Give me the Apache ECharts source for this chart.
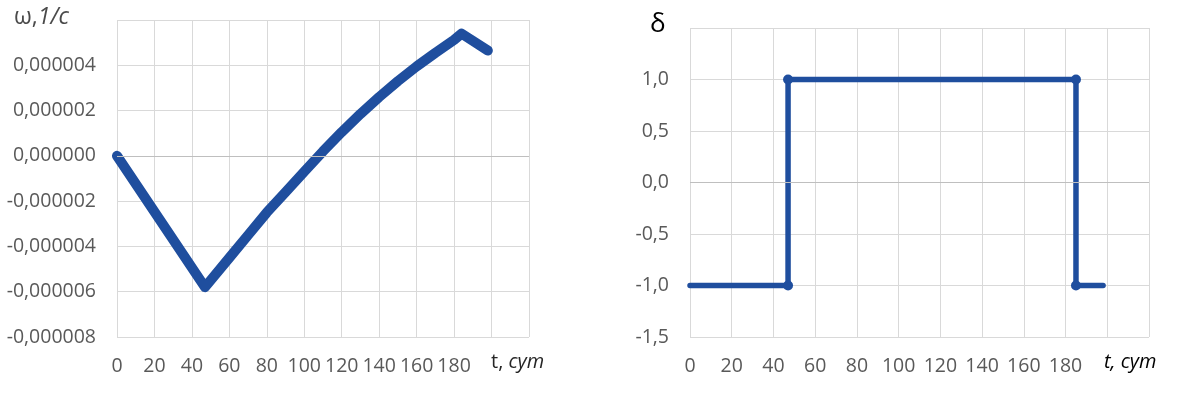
<!DOCTYPE html>
<html>
<head>
<meta charset="utf-8">
<script src="https://cdn.jsdelivr.net/npm/echarts@6/dist/echarts.min.js"></script>
<style>
html,body{margin:0;padding:0;background:#fff;}
#c{width:1181px;height:407px;}
</style>
</head>
<body>
<div id="c"></div>
<script>
// ---- data ----
var omegaT = [0, 47, 60, 70, 80, 90, 100, 110, 120, 130, 140, 150, 160, 170, 180, 184, 198];
var omegaV = [0, -5.8e-6, -4.5e-6, -3.5e-6, -2.5e-6, -1.6e-6, -0.7e-6, 0.2e-6, 1.05e-6, 1.85e-6, 2.6e-6, 3.3e-6, 3.95e-6, 4.55e-6, 5.12e-6, 5.4e-6, 4.65e-6];
var deltaT = [0, 47, 47, 185, 185, 198];
var deltaV = [-1, -1, 1, 1, -1, -1];
var deltaMarked = [false, true, true, true, true, false];
var xTickMax = 180;

var GRAY = '#595959', GRID = '#d9d9d9', BLUE = '#1F4E9E';
var FONT = 'Open Sans';
var FS = 19.5;

function pairs(xs, ys) { return xs.map(function (x, i) { return [x, ys[i]]; }); }
function fmtComma(v, d) { return v.toFixed(d).replace('.', ','); }

var chart = echarts.init(document.getElementById('c'));
var xCommon = function (idx) {
  return {
    type: 'value', gridIndex: idx, min: 0, max: 220, interval: 20,
    axisLine: { show: false }, axisTick: { show: false },
    splitLine: { show: true, lineStyle: { color: GRID, width: 1 } },
    axisLabel: {
      color: GRAY, fontFamily: FONT, fontSize: FS, margin: 19,
      formatter: function (v) { return v > xTickMax ? '' : String(v); }
    }
  };
};

chart.setOption({
  animation: false,
  grid: [
    { left: 117, top: 20, width: 412, height: 317 },
    { left: 690, top: 28, width: 459, height: 309 }
  ],
  xAxis: [xCommon(0), xCommon(1)],
  yAxis: [
    {
      type: 'value', gridIndex: 0, min: -8e-6, max: 6e-6, interval: 2e-6,
      axisLine: { show: false }, axisTick: { show: false },
      splitLine: { lineStyle: { color: GRID, width: 1 } },
      axisLabel: {
        color: GRAY, fontFamily: FONT, fontSize: FS, margin: 21, showMaxLabel: false,
        formatter: function (v) { return fmtComma(v, 6); }
      }
    },
    {
      type: 'value', gridIndex: 1, min: -1.5, max: 1.5, interval: 0.5,
      axisLine: { show: false }, axisTick: { show: false },
      splitLine: { lineStyle: { color: GRID, width: 1 } },
      axisLabel: {
        color: GRAY, fontFamily: FONT, fontSize: FS, margin: 21, showMaxLabel: false,
        formatter: function (v) { return fmtComma(v, 1); }
      }
    }
  ],
  series: [
    {
      type: 'line', xAxisIndex: 0, yAxisIndex: 0,
      data: pairs(omegaT, omegaV),
      showSymbol: false, symbol: 'none',
      lineStyle: { color: BLUE, width: 10, cap: 'round', join: 'round' },
      markLine: {
        silent: true, symbol: 'none', label: { show: false },
        lineStyle: { color: '#bfbfbf', width: 1, type: 'solid' },
        data: [{ yAxis: 0 }]
      },
      z: 3
    },
    {
      type: 'line', xAxisIndex: 1, yAxisIndex: 1,
      data: deltaT.map(function (t, i) {
        return { value: [t, deltaV[i]], symbolSize: deltaMarked[i] ? 10 : 0 };
      }),
      symbol: 'circle', showSymbol: true,
      itemStyle: { color: BLUE },
      lineStyle: { color: BLUE, width: 5.5, cap: 'round', join: 'round' },
      markLine: {
        silent: true, symbol: 'none', label: { show: false },
        lineStyle: { color: '#bfbfbf', width: 1, type: 'solid' },
        data: [{ yAxis: 0 }]
      },
      z: 3
    }
  ],
  graphic: [
    {
      type: 'text', left: 14, top: 6,
      style: {
        text: '{a|ω,}{b|1/с}',
        rich: {
          a: { fontFamily: FONT, fontSize: 23, fill: '#4a4a4a' },
          b: { fontFamily: FONT, fontSize: 23, fill: '#4a4a4a', fontStyle: 'italic' }
        }
      }
    },
    {
      type: 'text', left: 491, top: 352,
      style: {
        text: '{a|t, }{b|сут}',
        rich: {
          a: { fontFamily: FONT, fontSize: 20, fill: '#262626' },
          b: { fontFamily: FONT, fontSize: 20, fill: '#262626', fontStyle: 'italic' }
        }
      }
    },
    {
      type: 'text', left: 650, top: 12,
      style: { text: 'δ', fontFamily: FONT, fontSize: 26, fill: '#000' }
    },
    {
      type: 'text', left: 1104, top: 352,
      style: { text: 't, сут', fontFamily: FONT, fontSize: 20, fontStyle: 'italic', fill: '#000' }
    }
  ]
});
</script>
</body>
</html>
